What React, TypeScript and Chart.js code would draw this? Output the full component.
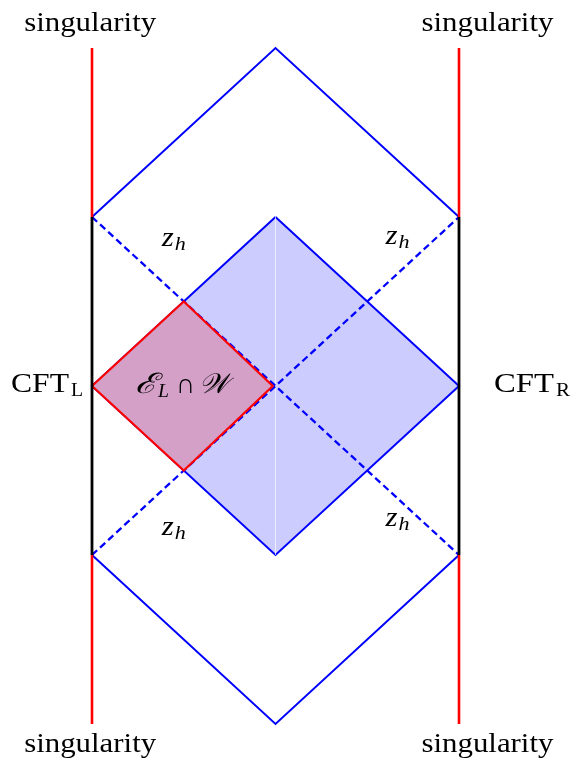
import React, { useEffect, useRef } from "react";
import { Chart, registerables } from "chart.js";

Chart.register(...registerables);

// Geometry of the diagram (data units)
const blueDiamond = [
  { x: 0, y: 2 }, { x: 2, y: 0 }, { x: 0, y: -2 }, { x: -2, y: 0 }, { x: 0, y: 2 },
];
const redRegion = [
  { x: -2, y: 0 }, { x: -1, y: 1 }, { x: -0.03, y: 0 }, { x: -1, y: -1 }, { x: -2, y: 0 },
];
const topWedge = [{ x: -2, y: 2 }, { x: 0, y: 4 }, { x: 2, y: 2 }];
const bottomWedge = [{ x: -2, y: -2 }, { x: 0, y: -4 }, { x: 2, y: -2 }];
const horizonA = [{ x: -2, y: 2 }, { x: 2, y: -2 }];
const horizonB = [{ x: -2, y: -2 }, { x: 2, y: 2 }];
const leftBoundary = [{ x: -2, y: -2 }, { x: -2, y: 2 }];
const rightBoundary = [{ x: 2, y: -2 }, { x: 2, y: 2 }];
const singularities = [
  { x: -2, y: 2 }, { x: -2, y: 4 }, { x: -2, y: null },
  { x: -2, y: -2 }, { x: -2, y: -4 }, { x: -2, y: null },
  { x: 2, y: 2 }, { x: 2, y: 4 }, { x: 2, y: null },
  { x: 2, y: -2 }, { x: 2, y: -4 },
];
const seams = [
  { x: 0, y: 2 }, { x: 0, y: -2 }, { x: 0, y: null },
  { x: -1, y: 1 }, { x: -1, y: -1 },
];

// Text labels
const singularityLabels = [
  { x: -2.02, y: 4.2 },
  { x: 2.31, y: 4.2 },
  { x: -2.02, y: -4.33 },
  { x: 2.31, y: -4.33 },
];
const zhLabels = [
  { x: -1.11, y: 1.66 },
  { x: 1.33, y: 1.68 },
  { x: -1.11, y: -1.76 },
  { x: 1.33, y: -1.66 },
];

const SERIF = '"Liberation Serif", "DejaVu Serif", serif';

function fitText(
  ctx: CanvasRenderingContext2D,
  text: string,
  left: number,
  baseline: number,
  font: string,
  width: number
) {
  ctx.save();
  ctx.font = font;
  const w = ctx.measureText(text).width;
  const s = w > 0 ? width / w : 1;
  ctx.translate(left, baseline);
  ctx.scale(s, 1);
  ctx.textAlign = "left";
  ctx.textBaseline = "alphabetic";
  ctx.fillText(text, 0, 0);
  ctx.restore();
}

const textPlugin = {
  id: "diagramText",
  afterDraw(chart: any) {
    const ctx: CanvasRenderingContext2D = chart.ctx;
    const xs = chart.scales.x;
    const ys = chart.scales.y;
    ctx.save();
    ctx.fillStyle = "#000";
    singularityLabels.forEach((p) => {
      const cx = xs.getPixelForValue(p.x);
      const cy = ys.getPixelForValue(p.y);
      fitText(ctx, "singularity", cx - 66, cy, `28px ${SERIF}`, 132);
    });
    zhLabels.forEach((p) => {
      const cx = xs.getPixelForValue(p.x);
      const cy = ys.getPixelForValue(p.y);
      fitText(ctx, "z", cx - 12, cy, `italic 28px ${SERIF}`, 12);
      fitText(ctx, "h", cx + 1, cy + 4, `italic 19px ${SERIF}`, 11);
    });
    // CFT labels
    const ly = ys.getPixelForValue(0);
    fitText(ctx, "CFT", 11, ly + 6, `28px ${SERIF}`, 58);
    fitText(ctx, "L", 71, ly + 10, `18px ${SERIF}`, 12);
    fitText(ctx, "CFT", 494, ly + 6, `28px ${SERIF}`, 60);
    fitText(ctx, "R", 556, ly + 10, `18px ${SERIF}`, 14);
    // E_L ∩ W
    fitText(ctx, "ℰ", 135, ly + 7, `italic 28px ${SERIF}`, 22);
    fitText(ctx, "L", 158, ly + 11, `italic 18px ${SERIF}`, 11);
    fitText(ctx, "∩", 176, ly + 7, `28px ${SERIF}`, 19);
    fitText(ctx, "𝒲", 199, ly + 7, `italic 28px ${SERIF}`, 29);
    ctx.restore();
  },
};

const line = (data: any[], color: string, width: number, order: number, extra: any = {}) => ({
  data,
  borderColor: color,
  borderWidth: width,
  pointRadius: 0,
  showLine: true,
  fill: false,
  tension: 0,
  spanGaps: false,
  order,
  ...extra,
});

export default function App() {
  const ref = useRef<HTMLCanvasElement>(null);
  useEffect(() => {
    document.body.style.margin = "0";
    const chart = new Chart(ref.current!, {
      type: "scatter",
      data: {
        datasets: [
          line(blueDiamond, "#0000ff", 2, 10, { fill: "shape", backgroundColor: "rgb(204,204,255)" }),
          line(seams, "rgba(255,255,255,0.3)", 1, 9),
          line(horizonA, "#0000ff", 2.3, 8, { borderDash: [7, 4] }),
          line(horizonB, "#0000ff", 2.3, 8, { borderDash: [7, 4] }),
          line(redRegion, "#ff0000", 2.2, 5, { fill: "shape", backgroundColor: "rgb(212,160,200)" }),
          line(topWedge, "#0000ff", 2, 6),
          line(bottomWedge, "#0000ff", 2, 6),
          line(leftBoundary, "#000000", 2.8, 4),
          line(rightBoundary, "#000000", 2.8, 4),
          line(singularities, "#ff0000", 2.6, 3),
        ],
      },
      options: {
        animation: false,
        responsive: false,
        maintainAspectRatio: false,
        layout: { padding: 0 },
        plugins: { legend: { display: false }, tooltip: { enabled: false } },
        scales: {
          x: { type: "linear", display: false, min: -3.0027, max: 3.2425 },
          y: { type: "linear", display: false, min: -4.4379, max: 4.568 },
        },
      },
      plugins: [textPlugin],
    });
    return () => chart.destroy();
  }, []);
  return (
    <div style={{ position: "absolute", left: 0, top: 0, width: 573, height: 761, background: "#fff" }}>
      <canvas ref={ref} width={573} height={761} />
    </div>
  );
}
